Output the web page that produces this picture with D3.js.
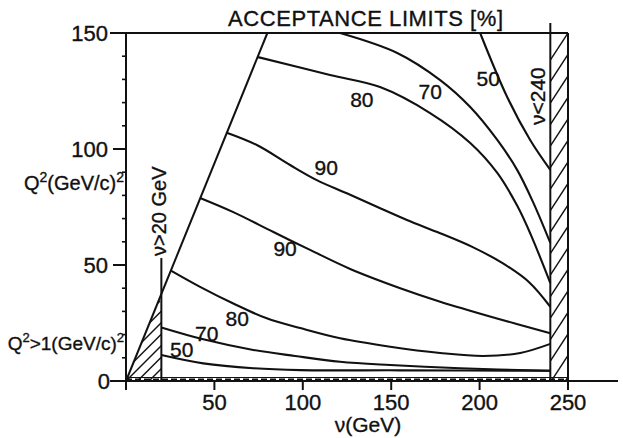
<!DOCTYPE html>
<html><head><meta charset="utf-8">
<script src="https://cdn.jsdelivr.net/npm/d3@7"></script>
<style>
body{margin:0;background:#fff;}
svg{display:block;}
text{font-family:"Liberation Sans",Arial,sans-serif;fill:#111;stroke:#111;stroke-width:0.35px;}
</style></head><body>
<svg id="c" width="623" height="438"></svg>
<script>
// ---- data (ν in GeV, Q² in (GeV/c)²) ----
const xTicks = [50, 100, 150, 200, 250];
const yTicks = [0, 50, 100, 150];
const yMinorTicks = [10,20,30,40,60,70,80,90,110,120,130,140];

const upper50 = [[200.3,150],[215.6,122.4],[228.6,103.9],[240,91]];
const upper70 = [[121.1,150],[153.4,141.4],[177.7,129.7],[194.7,118.1],[210,103.9],[221.3,90.9],[230.3,77],[240,59.5]];
const upper80 = [[74.7,139.6],[115.4,131.9],[143.7,126.7],[172,115.5],[194.7,102.6],[210,89.7],[221.3,75.5],[229,63],[240,42.2]];
const upper90 = [[57,107],[74,101.7],[92.8,93.1],[107.9,86.6],[124.9,80.9],[141.9,75.1],[158.9,69.4],[177.7,63.7],[196.4,57.6],[213,50.8],[228,42.6],[240,32]];
const lower90 = [[41.9,78.9],[60.7,72.8],[83.4,64.2],[104.1,56.5],[126.8,48.3],[155.1,40],[177.7,34.2],[208.8,27.2],[240,20.6]];
const lower80 = [[25.4,47.6],[41.9,40.6],[60.7,33.4],[79.6,27],[98.5,22.8],[121.1,18.4],[149.4,14.8],[177.7,12.1],[202,10.8],[223,12.1],[240,16]];
const lower70 = [[20,23.1],[43.7,18],[72,13.4],[95.6,10.8],[121.1,8.3],[149.4,6.9],[189,5.5],[240,4.4]];
const lower50 = [[20,11.2],[43.7,7.6],[72,5.5],[98.5,4.7],[155,4.6],[240,4.4]];

const contourLabels = ["80","70","50","90","90","80","70","50"];
const labelNu = [133.4,172.1,204.9,113.2,90,62.9,45.7,31.5];
const labelQ2 = [121.2,124.7,130.2,92.1,57.2,27,20.5,13.6];

const nuMin = 20, nuMax = 240, nuEdge = 250, q2Min = 1;
const xBjSlope = 1.876; // Q² = 2Mν  (x = 1 kinematic limit)

// ---- scales ----
const x = d3.scaleLinear().domain([0,250]).range([126,568]);
const y = d3.scaleLinear().domain([0,150]).range([381,33]);

const svg = d3.select("#c");
const line = d3.line().x(d=>x(d[0])).y(d=>y(d[1])).curve(d3.curveCatmullRom.alpha(0.5));

// ---- hatched regions ----
const defs = svg.append("defs");
defs.append("clipPath").attr("id","clipL").append("polygon")
  .attr("points",[[x(0),y(0)],[x(nuMin),y(0)],[x(nuMin),y(xBjSlope*nuMin)]].map(p=>p.join(",")).join(" "));
defs.append("clipPath").attr("id","clipR").append("rect")
  .attr("x",x(nuMax)).attr("y",y(150)).attr("width",x(nuEdge)-x(nuMax)).attr("height",y(0)-y(150));

const gL = svg.append("g").attr("clip-path","url(#clipL)");
for(let k=-6;k<8;k++){
  const x0 = x(0)+k*11.5;
  gL.append("line").attr("x1",x0).attr("y1",y(0)).attr("x2",x0+80).attr("y2",y(0)-80)
    .attr("stroke","#111").attr("stroke-width",1.4);
}
const gR = svg.append("g").attr("clip-path","url(#clipR)");
for(let k=0;k<20;k++){
  const y0 = y(150)+k*21.5;
  gR.append("line").attr("x1",x(nuMax)).attr("y1",y0+27).attr("x2",x(nuEdge)).attr("y2",y0)
    .attr("stroke","#111").attr("stroke-width",1.4);
}

// ---- frame / boundary lines ----
const stroke = (sel,w)=>sel.attr("stroke","#111").attr("stroke-width",w).attr("fill","none");
stroke(svg.append("line").attr("x1",x(0)-16).attr("x2",x(nuEdge)).attr("y1",y(150)).attr("y2",y(150)),2);
stroke(svg.append("line").attr("x1",x(0)).attr("x2",x(0)).attr("y1",y(150)).attr("y2",y(0)+9),2);
stroke(svg.append("line").attr("x1",x(0)-16).attr("x2",618).attr("y1",y(0)).attr("y2",y(0)),2);
stroke(svg.append("line").attr("x1",x(0)).attr("x2",x(nuEdge)).attr("y1",y(q2Min*1.5)).attr("y2",y(q2Min*1.5)),1.2);
stroke(svg.append("line").attr("x1",x(0)).attr("x2",x(nuEdge)).attr("y1",y(q2Min*0.75)).attr("y2",y(q2Min*0.75)),1.6).attr("stroke-dasharray","6 3");
stroke(svg.append("line").attr("x1",x(nuEdge)).attr("x2",x(nuEdge)).attr("y1",y(150)).attr("y2",y(0)+9),2);
stroke(svg.append("line").attr("x1",x(nuMax)).attr("x2",x(nuMax)).attr("y1",y(154.3)).attr("y2",y(0)),2);
stroke(svg.append("line").attr("x1",x(nuMin)).attr("x2",x(nuMin)).attr("y1",y(53)).attr("y2",y(0)),2);
stroke(svg.append("line").attr("x1",x(0)).attr("y1",y(0)).attr("x2",x(150/xBjSlope)).attr("y2",y(150)),2);

// ---- ticks ----
yTicks.forEach(t=>{
  stroke(svg.append("line").attr("x1",x(0)-13).attr("x2",x(0)).attr("y1",y(t)).attr("y2",y(t)),2);
  svg.append("text").attr("x",t===0?110:108).attr("y",y(t)).attr("dy","0.36em")
    .attr("text-anchor","end").attr("font-size",22).text(t);
});
yMinorTicks.forEach(t=>{
  stroke(svg.append("line").attr("x1",x(0)-4).attr("x2",x(0)).attr("y1",y(t)).attr("y2",y(t)),1.6);
});
xTicks.forEach(t=>{
  stroke(svg.append("line").attr("x1",x(t)).attr("x2",x(t)).attr("y1",y(0)).attr("y2",y(0)+9),2);
  svg.append("text").attr("x",x(t)).attr("y",410).attr("text-anchor","middle").attr("font-size",22).text(t);
});

// ---- contours ----
[upper50,upper70,upper80,upper90,lower90,lower80,lower70,lower50].forEach(c=>{
  stroke(svg.append("path").attr("d",line(c)),2.1);
});
contourLabels.forEach((l,i)=>{
  svg.append("text").attr("x",x(labelNu[i])).attr("y",y(labelQ2[i])).attr("dy","0.36em")
    .attr("text-anchor","middle").attr("font-size",21).text(l);
});

// ---- texts ----
svg.append("text").attr("x",228).attr("y",26).attr("font-size",22)
  .attr("textLength",275).attr("lengthAdjust","spacing").text("ACCEPTANCE LIMITS [%]");

const yt = svg.append("text").attr("x",124).attr("y",190).attr("text-anchor","end").attr("font-size",20);
yt.append("tspan").text("Q");
yt.append("tspan").attr("dy",-8).attr("font-size",14).text("2");
yt.append("tspan").attr("dy",8).text("(GeV/c)");
yt.append("tspan").attr("dy",-8).attr("font-size",14).text("2");

const qt = svg.append("text").attr("x",124).attr("y",350).attr("text-anchor","end").attr("font-size",19);
qt.append("tspan").text("Q");
qt.append("tspan").attr("dy",-8).attr("font-size",13).text("2");
qt.append("tspan").attr("dy",8).text(">1(GeV/c)");
qt.append("tspan").attr("dy",-8).attr("font-size",13).text("2");

svg.append("text").attr("x",368).attr("y",432).attr("text-anchor","middle").attr("font-size",21).text("ν(GeV)");

svg.append("text").attr("transform",`translate(166,256) rotate(-90)`).attr("font-size",20).text("ν>20 GeV");
svg.append("text").attr("transform",`translate(545,125) rotate(-90)`).attr("font-size",21).text("ν<240");
</script></body></html>
